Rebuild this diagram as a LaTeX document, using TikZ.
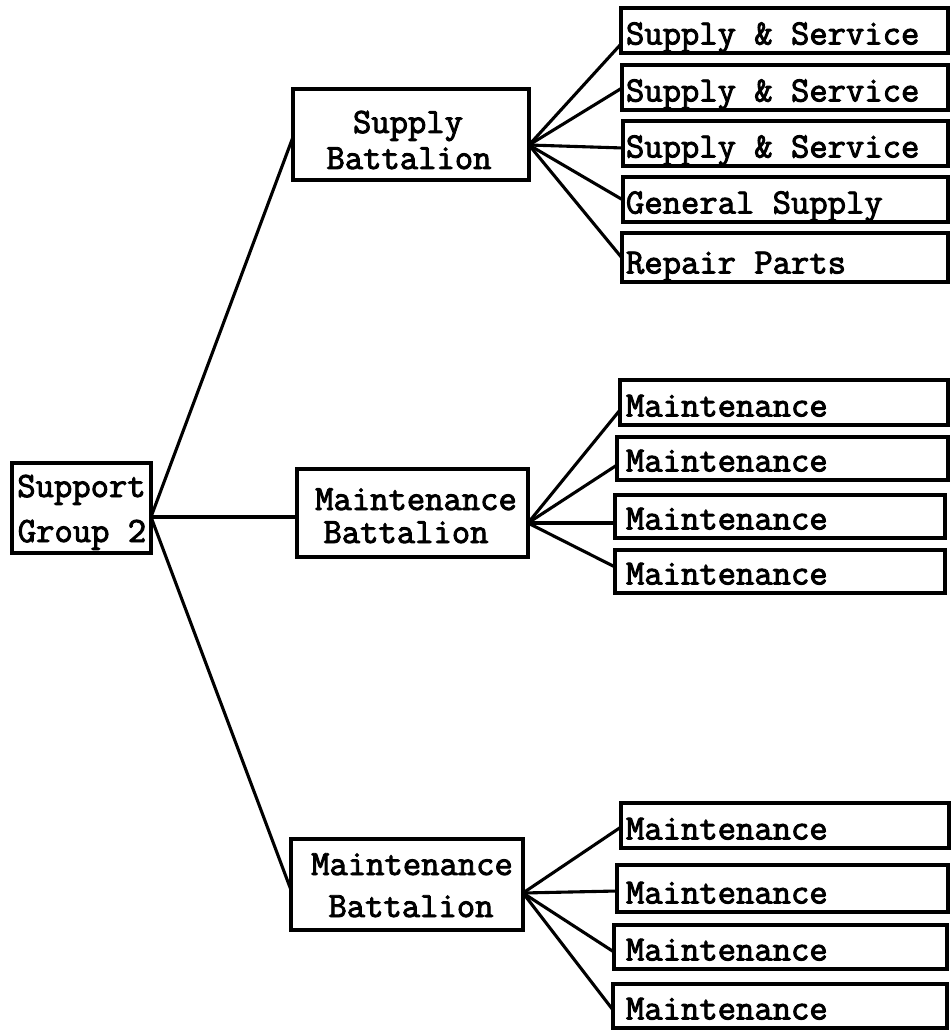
\documentclass[tikz,border=0pt]{standalone}
\usepackage{fontspec}
\newfontfamily\tfont{Latin Modern Mono}[FakeBold=2.6]
\tikzset{
  box/.style={draw, line width=3.2pt, inner sep=0pt, outer sep=0pt, anchor=north west},
  conn/.style={line width=3.1pt, line cap=round},
  txt/.style={inner sep=0pt, outer sep=0pt, font={\tfont\fontsize{35.6}{36}\selectfont}},
}
\newcommand\mkbox[5]{% name, left, top, right, bottom
  \node[box, minimum width={#4-#2}, minimum height={#5-#3}] (#1) at (#2,#3) {};}
\newcommand\mkleaf[6]{% name, left, top, right, bottom, text
  \mkbox{#1}{#2}{#3}{#4}{#5}
  \node[txt, anchor=base west] (#1t) at (626,#5-8.5) {#6};}
\begin{document}
\begin{tikzpicture}[x=1pt,y=-1pt]
\useasboundingbox (0,0) rectangle (950,1032);
% root
\mkbox{sg}{12}{463}{151}{553}
\node[txt, anchor=base] (sgt1) at (81.5,497) {Support};
\node[txt, anchor=base] (sgt2) at (82,542) {Group 2};
% battalions
\mkbox{sb}{293}{89}{529}{180}
\node[txt, anchor=base] (sbt1) at (408,133) {Supply};
\node[txt, anchor=base] (sbt2) at (409,169) {Battalion};
\mkbox{ma}{297}{469}{528}{557}
\node[txt, anchor=base] (mat1) at (416,510) {Maintenance};
\node[txt, anchor=base] (mat2) at (406,543) {Battalion};
\mkbox{mc}{291}{839}{523}{930}
\node[txt, anchor=base] (mct1) at (412,875) {Maintenance};
\node[txt, anchor=base] (mct2) at (411,917) {Battalion};
% leaves top
\mkleaf{l1}{621}{8}{948}{53}{Supply \& Service}
\mkleaf{l2}{622}{65}{948}{110}{Supply \& Service}
\mkleaf{l3}{623}{121}{948}{166}{Supply \& Service}
\mkleaf{l4}{623}{177}{948}{222}{General Supply}
\mkleaf{l5}{622}{233}{948}{282}{Repair Parts}
% leaves middle
\mkleaf{m1}{620}{380}{948}{425}{Maintenance}
\mkleaf{m2}{617}{437}{948}{480}{Maintenance}
\mkleaf{m3}{615}{495}{945}{538}{Maintenance}
\mkleaf{m4}{615}{550}{945}{593}{Maintenance}
% leaves bottom
\mkleaf{b1}{621}{803}{949}{848}{Maintenance}
\mkleaf{b2}{617}{865}{948}{912}{Maintenance}
\mkleaf{b3}{614}{925}{947}{969}{Maintenance}
\mkleaf{b4}{613}{984}{947}{1028}{Maintenance}
% connectors root
\draw[conn] ([yshift=-54]sg.north east) -- ([yshift=-48]sb.north west);
\draw[conn] ([yshift=-54]sg.north east) -- ([yshift=-48]ma.north west);
\draw[conn] ([yshift=-54]sg.north east) -- ([yshift=-51]mc.north west);
% supply fan
\foreach \n/\d in {l1/36,l2/23,l3/27,l4/23,l5/25}
  \draw[conn] ([yshift=-56]sb.north east) -- ([yshift=-\d]\n.north west);
% middle fan
\foreach \n/\d in {m1/30,m2/28,m3/28,m4/17}
  \draw[conn] ([yshift=-54]ma.north east) -- ([yshift=-\d]\n.north west);
% bottom fan
\foreach \n/\d in {b1/24,b2/26,b3/27,b4/26}
  \draw[conn] ([yshift=-54]mc.north east) -- ([yshift=-\d]\n.north west);
\end{tikzpicture}
\end{document}
